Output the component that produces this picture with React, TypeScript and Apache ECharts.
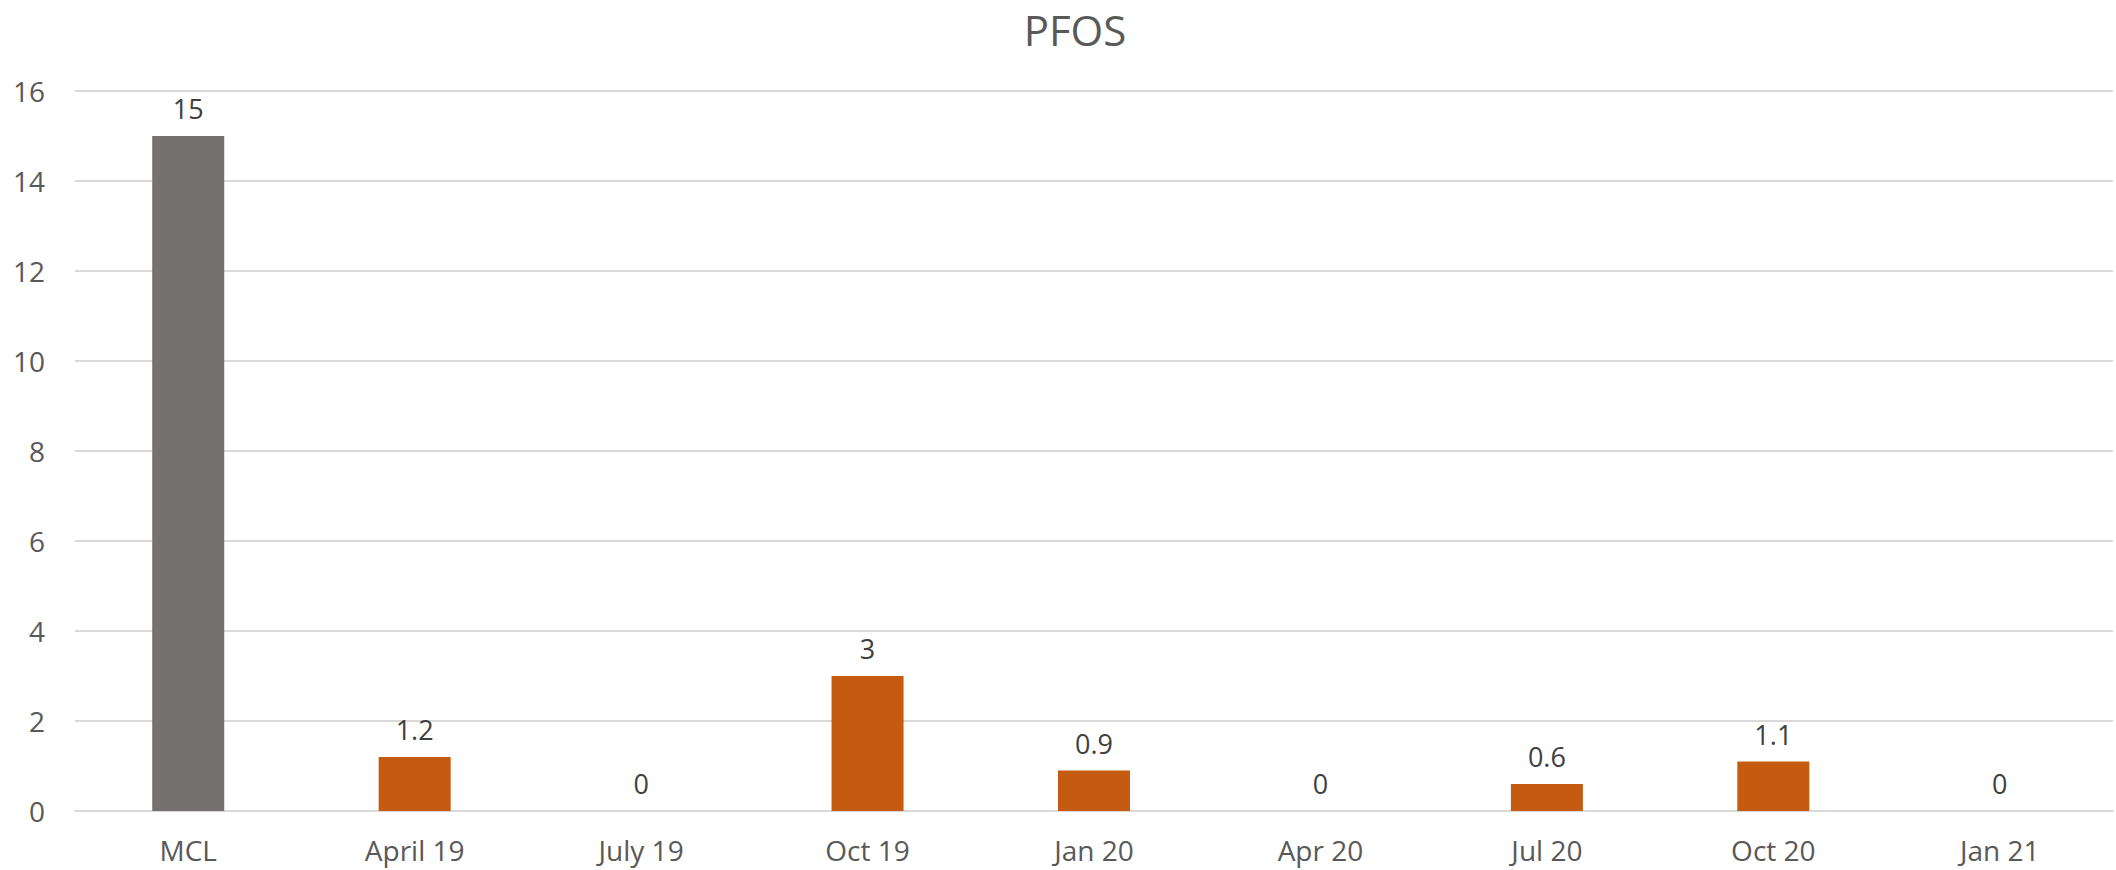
import React, { useEffect, useRef } from "react";
import * as echarts from "echarts";

const categories = ["MCL", "April 19", "July 19", "Oct 19", "Jan 20", "Apr 20", "Jul 20", "Oct 20", "Jan 21"];
const values = [15, 1.2, 0, 3, 0.9, 0, 0.6, 1.1, 0];
const referenceCategory = "MCL";
const chartTitle = "PFOS";

const FONT = "'Open Sans', 'Noto Sans', sans-serif";

export default function App() {
  const ref = useRef<HTMLDivElement>(null);
  useEffect(() => {
    if (!ref.current) return;
    const chart = echarts.init(ref.current, null, { renderer: "svg" });
    chart.setOption({
      animation: false,
      backgroundColor: "#ffffff",
      title: {
        text: chartTitle,
        left: 1070,
        textAlign: "center",
        top: 3,
        textStyle: { fontFamily: FONT, fontSize: 42, fontWeight: "normal", color: "#595959" },
      },
      grid: { left: 75, right: 3, top: 91, bottom: 59, containLabel: false },
      xAxis: {
        type: "category",
        data: categories,
        axisLine: { show: true, lineStyle: { color: "#D9D9D9", width: 2 } },
        axisTick: { show: false },
        axisLabel: { fontFamily: FONT, fontSize: 28, color: "#595959", margin: 25 },
      },
      yAxis: {
        type: "value",
        min: 0,
        max: 16,
        interval: 2,
        axisLine: { show: false },
        axisTick: { show: false },
        splitLine: { lineStyle: { color: "#D9D9D9", width: 2 } },
        axisLabel: { fontFamily: FONT, fontSize: 28, color: "#595959", margin: 30 },
      },
      series: [
        {
          type: "bar",
          barWidth: "31.8%",
          data: values.map((v, i) => ({
            value: v,
            itemStyle: { color: categories[i] === referenceCategory ? "#767171" : "#C55A11" },
          })),
          label: {
            show: true,
            position: "top",
            distance: 14,
            fontFamily: FONT,
            fontSize: 27,
            color: "#404040",
          },
        },
      ],
    });
    return () => chart.dispose();
  }, []);
  return <div ref={ref} style={{ position: "fixed", left: 0, top: 0, width: 2116, height: 870 }} />;
}
